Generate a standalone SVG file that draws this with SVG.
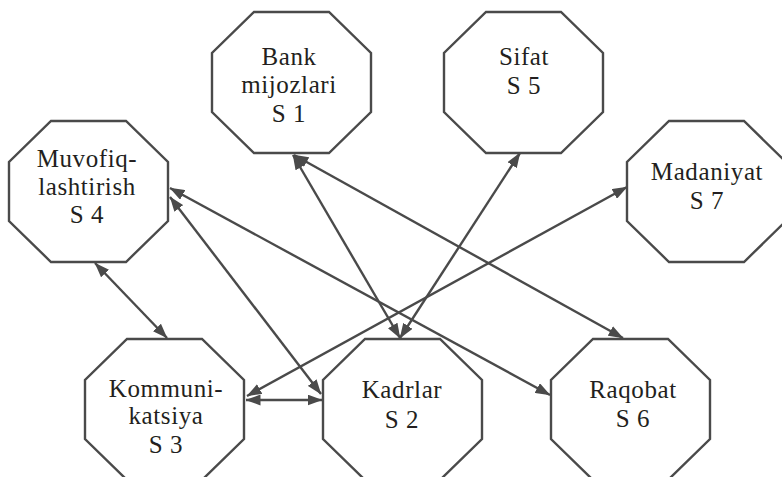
<svg xmlns="http://www.w3.org/2000/svg" width="782" height="477" viewBox="0 0 782 477">
  <style>
    .oct { fill: #ffffff; stroke: #4a4a4a; stroke-width: 2.4; stroke-linejoin: miter; }
    .link { fill: none; stroke: #4a4a4a; stroke-width: 2.4; marker-start: url(#head); marker-end: url(#head); }
  </style>
  <defs>
    <!-- one octagon shape, 159 x 141, reused for every node -->
    <polygon id="octagon" points="42,0 117,0 159,41 159,100 117,141 42,141 0,100 0,41"/>
    <marker id="head" viewBox="0 0 15 11" refX="14.5" refY="5.5" markerWidth="15" markerHeight="11" markerUnits="userSpaceOnUse" orient="auto-start-reverse">
      <path d="M0,0 L15,5.5 L0,11 z" fill="#4a4a4a"/>
    </marker>
  </defs>

  <rect width="782" height="477" fill="#ffffff"/>

  <!-- connectors (all two-way) -->
  <g id="connectors">
    <line class="link" x1="95" y1="263" x2="167" y2="338"/>
    <line class="link" x1="170" y1="188" x2="550" y2="395"/>
    <line class="link" x1="170" y1="197" x2="321" y2="394"/>
    <line class="link" x1="293" y1="155" x2="400" y2="338"/>
    <line class="link" x1="294" y1="155" x2="623" y2="338"/>
    <line class="link" x1="520" y1="153" x2="400" y2="338"/>
    <line class="link" x1="246" y1="400" x2="322" y2="400"/>
    <line class="link" x1="247" y1="396" x2="627" y2="187"/>
  </g>

  <g id="nodes" font-family="Liberation Serif, Times New Roman, serif" font-size="25" fill="#231f20" text-anchor="middle" letter-spacing="0.6">
    <g id="s1">
      <use href="#octagon" class="oct" x="212" y="12"/>
      <text x="289" y="65">Bank</text>
      <text x="289" y="93">mijozlari</text>
      <text x="289" y="122">S 1</text>
    </g>

    <g id="s5">
      <use href="#octagon" class="oct" x="444" y="12"/>
      <text x="524" y="65">Sifat</text>
      <text x="524" y="94">S 5</text>
    </g>

    <g id="s4">
      <use href="#octagon" class="oct" x="9" y="121"/>
      <text x="87" y="167">Muvofiq-</text>
      <text x="87" y="195">lashtirish</text>
      <text x="87" y="223">S 4</text>
    </g>

    <g id="s7">
      <use href="#octagon" class="oct" x="627" y="121"/>
      <text x="707" y="180">Madaniyat</text>
      <text x="707" y="209">S 7</text>
    </g>

    <g id="s3">
      <use href="#octagon" class="oct" x="85" y="339"/>
      <text x="166" y="397">Kommuni-</text>
      <text x="166" y="424">katsiya</text>
      <text x="166" y="453">S 3</text>
    </g>

    <g id="s2">
      <use href="#octagon" class="oct" x="323" y="339"/>
      <text x="402" y="398">Kadrlar</text>
      <text x="402" y="428">S 2</text>
    </g>

    <g id="s6">
      <use href="#octagon" class="oct" x="551" y="339"/>
      <text x="633" y="398">Raqobat</text>
      <text x="633" y="427">S 6</text>
    </g>
  </g>
</svg>
